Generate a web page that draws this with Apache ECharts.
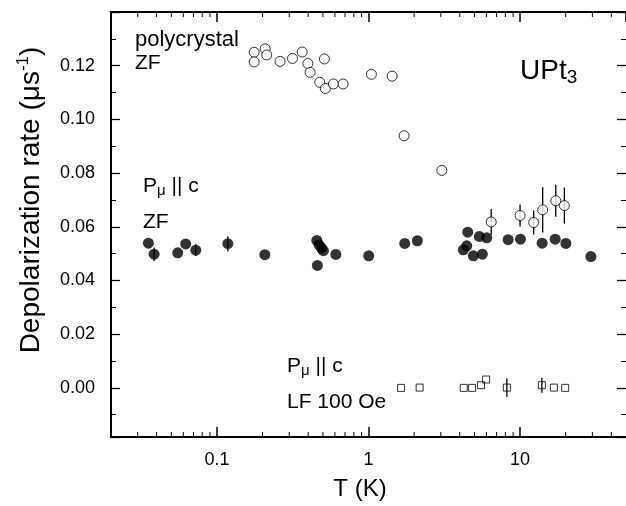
<!DOCTYPE html>
<html><head><meta charset="utf-8">
<script src="https://cdn.jsdelivr.net/npm/echarts@6/dist/echarts.min.js"></script>
<style>html,body{margin:0;padding:0;background:#fff}#c{width:626px;height:506px}</style>
</head><body><div id="c"></div>
<script>
// polycrystal, zero field (open circles)
const polyT = [0.176, 0.176, 0.208, 0.213, 0.261, 0.315, 0.365, 0.398, 0.412, 0.477, 0.519, 0.512, 0.587, 0.680, 1.045, 1.432, 1.718, 3.047, 6.45, 10.0, 12.3, 14.1, 17.2, 19.6];
const polyRate = [0.1250, 0.1214, 0.1263, 0.1240, 0.1216, 0.1227, 0.1251, 0.1208, 0.1175, 0.1138, 0.1115, 0.1225, 0.1132, 0.1132, 0.1168, 0.1161, 0.0939, 0.0810, 0.0618, 0.0642, 0.0616, 0.0663, 0.0697, 0.0679];
const polyErr = [0,0,0,0,0,0,0,0,0,0,0,0,0,0,0,0,0,0, 0.0048, 0.0041, 0.0045, 0.0084, 0.0060, 0.0067];
// P_mu || c, zero field (filled circles)
const zfT = [0.0353, 0.0385, 0.0551, 0.0622, 0.0725, 0.118, 0.207, 0.456, 0.472, 0.489, 0.504, 0.460, 0.609, 1.003, 1.734, 2.099, 4.226, 4.449, 4.517, 4.918, 5.387, 5.639, 6.028, 8.346, 10.06, 13.99, 17.05, 20.06, 29.33];
const zfRate = [0.0539, 0.0498, 0.0503, 0.0536, 0.0513, 0.0537, 0.0496, 0.0549, 0.0533, 0.0521, 0.0511, 0.0456, 0.0497, 0.0492, 0.0538, 0.0548, 0.0514, 0.0529, 0.0580, 0.0492, 0.0564, 0.0498, 0.0559, 0.0552, 0.0554, 0.0539, 0.0554, 0.0538, 0.0489];
const zfErr = [0, 0.0025, 0, 0, 0.0022, 0.0028, 0,0,0,0,0,0,0,0,0,0,0,0,0,0,0,0,0,0,0,0,0,0,0];
// P_mu || c, LF 100 Oe (open squares)
const lfT = [1.641, 2.175, 4.25, 4.823, 5.527, 5.973, 8.183, 13.93, 16.71, 19.85];
const lfRate = [0.0000, 0.0001, 0.0000, 0.0000, 0.0010, 0.0031, 0.0001, 0.0010, 0.0001, 0.0000];
const lfErr = [0,0,0,0,0,0,0.0034,0.0028,0,0];
// axis
const xMin = 0.02, xMax = 50, yMin = -0.0183, yMax = 0.14;
const xMinorTicks = [0.03,0.04,0.05,0.06,0.07,0.08,0.09,0.2,0.3,0.4,0.5,0.6,0.7,0.8,0.9,2,3,4,5,6,7,8,9,20,30,40];

const FF = "'Liberation Sans', Arial, Helvetica, sans-serif";
const pts = (xs, ys) => xs.map((x, i) => [x, ys[i]]);
const errs = (xs, ys, es) => xs.map((x, i) => [x, ys[i] - es[i], ys[i] + es[i], es[i]]).filter(d => d[3] > 0);

function errRender(params, api) {
  const p1 = api.coord([api.value(0), api.value(1)]);
  const p2 = api.coord([api.value(0), api.value(2)]);
  return {type: 'line', shape: {x1: p1[0], y1: p1[1], x2: p2[0], y2: p2[1]}, style: {stroke: '#000', lineWidth: 1.3}};
}
function minorRender(params, api) {
  const v = api.value(0);
  const b = api.coord([v, yMin]), t = api.coord([v, yMax]);
  return {type: 'group', children: [
    {type: 'line', shape: {x1: b[0], y1: b[1], x2: b[0], y2: b[1] - 5}, style: {stroke: '#000', lineWidth: 1}},
    {type: 'line', shape: {x1: t[0], y1: t[1], x2: t[0], y2: t[1] + 5}, style: {stroke: '#000', lineWidth: 1}}
  ]};
}

const chart = echarts.init(document.getElementById('c'));
const xBase = {type: 'log', logBase: 10, min: xMin, max: xMax, splitLine: {show: false},
  axisLine: {show: true, onZero: false, lineStyle: {color: '#000', width: 2}},
  axisTick: {show: true, inside: true, length: 10, lineStyle: {color: '#000', width: 1.5}}};
const yBase = {type: 'value', min: yMin, max: yMax, splitNumber: 8, splitLine: {show: false},
  axisTick: {show: true, inside: true, length: 9, lineStyle: {color: '#000', width: 1.3}},
  minorTick: {show: true, splitNumber: 2, length: 5, lineStyle: {color: '#000', width: 1}}};
const sub = {fontFamily: FF, fill: '#000'};

chart.setOption({
  animation: false,
  backgroundColor: '#fff',
  grid: {left: 111, right: 0, top: 12, bottom: 69, containLabel: false},
  xAxis: [
    Object.assign({}, xBase, {position: 'bottom',
      axisLabel: {showMinLabel: false, showMaxLabel: false, color: '#000', fontSize: 18, fontFamily: FF, margin: 14,
        formatter: v => String(+(+v).toPrecision(3))}}),
    Object.assign({}, xBase, {position: 'top', axisLabel: {show: false}})
  ],
  yAxis: [
    Object.assign({}, yBase, {position: 'left', axisLine: {show: true, onZero: false, lineStyle: {color: '#000', width: 2}},
      axisLabel: {showMinLabel: false, showMaxLabel: false, color: '#000', fontSize: 18, fontFamily: FF, margin: 16,
        formatter: v => Math.abs(v) < 1e-9 ? '0.00' : (+v).toFixed(2)}}),
    Object.assign({}, yBase, {position: 'right', axisLine: {show: false, onZero: false}, axisLabel: {show: false}})
  ],
  series: [
    {type: 'custom', renderItem: minorRender, data: xMinorTicks.map(v => [v, 0]), silent: true, clip: false, z: 1},
    {type: 'custom', renderItem: errRender, data: errs(polyT, polyRate, polyErr), encode: {x: 0, y: [1, 2]}, silent: true, z: 2},
    {type: 'custom', renderItem: errRender, data: errs(zfT, zfRate, zfErr), encode: {x: 0, y: [1, 2]}, silent: true, z: 2},
    {type: 'custom', renderItem: errRender, data: errs(lfT, lfRate, lfErr), encode: {x: 0, y: [1, 2]}, silent: true, z: 2},
    {type: 'scatter', data: pts(polyT, polyRate), symbol: 'circle', symbolSize: 10, z: 3,
      itemStyle: {color: '#fff', borderColor: '#000', borderWidth: 1}},
    {type: 'scatter', data: pts(zfT, zfRate), symbol: 'circle', symbolSize: 11, z: 3,
      itemStyle: {color: '#000', borderColor: '#000', borderWidth: 0}},
    {type: 'scatter', data: pts(lfT, lfRate), symbol: 'rect', symbolSize: 7, z: 3,
      itemStyle: {color: 'transparent', borderColor: '#000', borderWidth: 1}}
  ],
  graphic: [
    {type: 'text', x: 31, y: 200, rotation: Math.PI / 2,
      style: {text: '{a|Depolarization rate (μs}{s|-1}{a|)}', align: 'center', verticalAlign: 'middle',
        textAlign: 'center', textVerticalAlign: 'middle', fill: '#000',
        rich: {a: Object.assign({fontSize: 28, lineHeight: 32}, sub), s: Object.assign({fontSize: 17, verticalAlign: 'top', lineHeight: 17}, sub)}}},
    {type: 'text', x: 360, y: 489,
      style: {text: 'T (K)', font: '24px ' + FF, fill: '#000', align: 'center', verticalAlign: 'middle', textAlign: 'center', textVerticalAlign: 'middle'}},
    {type: 'text', x: 135, y: 40,
      style: {text: 'polycrystal', font: '22px ' + FF, fill: '#000', align: 'left', verticalAlign: 'middle', textVerticalAlign: 'middle'}},
    {type: 'text', x: 135, y: 63,
      style: {text: 'ZF', font: '21px ' + FF, fill: '#000', align: 'left', verticalAlign: 'middle', textVerticalAlign: 'middle'}},
    {type: 'text', x: 520, y: 71,
      style: {text: '{a|UPt}{b|3}', align: 'left', verticalAlign: 'middle', textVerticalAlign: 'middle', fill: '#000',
        rich: {a: Object.assign({fontSize: 28, lineHeight: 32}, sub), b: Object.assign({fontSize: 19, verticalAlign: 'bottom', lineHeight: 19}, sub)}}},
    {type: 'text', x: 143, y: 186,
      style: {text: '{a|P}{b|μ}{a| || c}', align: 'left', verticalAlign: 'middle', textVerticalAlign: 'middle', fill: '#000',
        rich: {a: Object.assign({fontSize: 21, lineHeight: 24}, sub), b: Object.assign({fontSize: 15, verticalAlign: 'bottom', lineHeight: 13}, sub)}}},
    {type: 'text', x: 143, y: 222,
      style: {text: 'ZF', font: '21px ' + FF, fill: '#000', align: 'left', verticalAlign: 'middle', textVerticalAlign: 'middle'}},
    {type: 'text', x: 287, y: 366,
      style: {text: '{a|P}{b|μ}{a| || c}', align: 'left', verticalAlign: 'middle', textVerticalAlign: 'middle', fill: '#000',
        rich: {a: Object.assign({fontSize: 21, lineHeight: 24}, sub), b: Object.assign({fontSize: 15, verticalAlign: 'bottom', lineHeight: 13}, sub)}}},
    {type: 'text', x: 287, y: 402,
      style: {text: 'LF 100 Oe', font: '21px ' + FF, fill: '#000', align: 'left', verticalAlign: 'middle', textVerticalAlign: 'middle'}}
  ]
});
</script></body></html>
